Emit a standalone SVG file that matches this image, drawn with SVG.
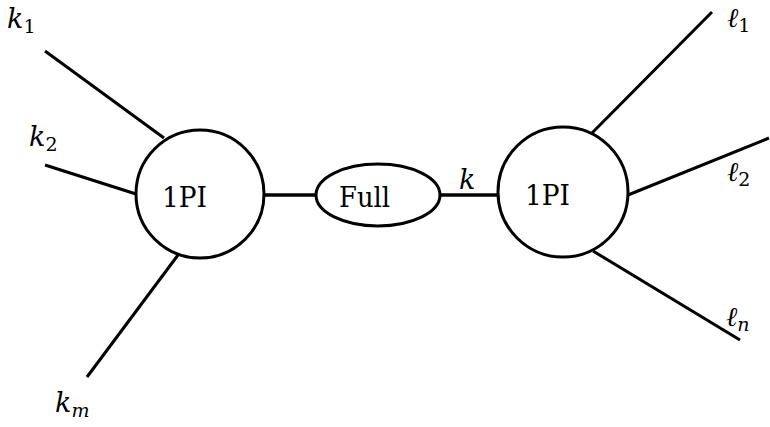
<svg xmlns="http://www.w3.org/2000/svg" width="770" height="427" viewBox="0 0 770 427">
<style>
.ln{stroke:#000;stroke-width:3;fill:none}
.th{stroke-width:3.5}
.nd{stroke:#000;stroke-width:3;fill:#fff}
text{font-family:'DejaVu Serif',serif;fill:#000}
.t{font-size:28px}
.m{font-style:italic;font-size:27px}
.s{font-style:normal;font-size:19px}
.si{font-style:italic;font-size:19px}
</style>
<rect width="770" height="427" fill="#fff"/>
<g id="connectors">
<line class="ln" x1="45" y1="51" x2="164" y2="138"/>
<line class="ln" x1="45" y1="165" x2="136" y2="194"/>
<line class="ln" x1="87" y1="377" x2="178" y2="255"/>
<line class="ln th" x1="264" y1="195" x2="316" y2="195"/>
<line class="ln th" x1="440" y1="195" x2="498" y2="195"/>
<line class="ln" x1="712" y1="12" x2="592" y2="133"/>
<line class="ln" x1="769" y1="138" x2="628" y2="195"/>
<line class="ln" x1="740" y1="340" x2="593" y2="251"/>
</g>
<g id="left1PI">
<circle class="nd" cx="200" cy="194" r="64"/>
<text class="t" x="162" y="207" textLength="45" lengthAdjust="spacingAndGlyphs">1PI</text>
</g>
<g id="full">
<ellipse class="nd" cx="378" cy="195" rx="62" ry="31"/>
<text class="t" x="339" y="207" textLength="51" lengthAdjust="spacingAndGlyphs">Full</text>
</g>
<g id="right1PI">
<circle class="nd" cx="563" cy="192" r="65"/>
<text class="t" x="525" y="205" textLength="45" lengthAdjust="spacingAndGlyphs">1PI</text>
</g>
<g id="labels">
<text class="m" x="7" y="28">k<tspan class="s" dy="5">1</tspan></text>
<text class="m" x="29" y="146">k<tspan class="s" dy="5">2</tspan></text>
<text class="m" x="55" y="412">k<tspan class="si" dy="5">m</tspan></text>
<text class="m" x="459" y="189">k</text>
<text class="m" x="727" y="27">ℓ<tspan class="s" dy="5">1</tspan></text>
<text class="m" x="727" y="181">ℓ<tspan class="s" dy="5">2</tspan></text>
<text class="m" x="726" y="326">ℓ<tspan class="si" dy="5">n</tspan></text>
</g>
</svg>
